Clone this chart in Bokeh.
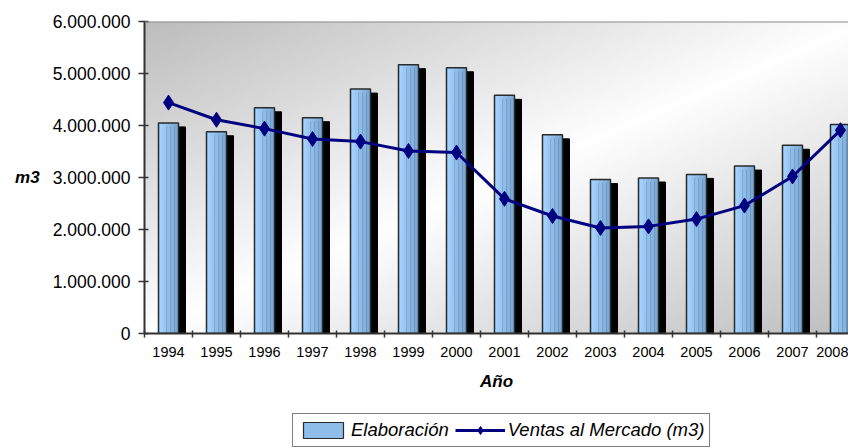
import numpy as np
from bokeh.plotting import figure
from bokeh.layouts import column
from bokeh.models import Range1d, FixedTicker, Span, Legend, LegendItem
from bokeh.embed import file_html
from bokeh.resources import INLINE

# ---------------- data ----------------
years = ["1994", "1995", "1996", "1997", "1998", "1999", "2000", "2001",
         "2002", "2003", "2004", "2005", "2006", "2007", "2008"]
elaboracion = [4050000, 3880000, 4340000, 4150000, 4700000, 5170000, 5110000,
               4580000, 3820000, 2960000, 2990000, 3060000, 3220000, 3620000, 4020000]
ventas = [4440000, 4110000, 3940000, 3740000, 3690000, 3510000, 3480000,
          2590000, 2260000, 2030000, 2060000, 2200000, 2460000, 3020000, 3910000]
y_ticks = [0, 1000000, 2000000, 3000000, 4000000, 5000000, 6000000]
y_tick_labels = [f"{t:,}".replace(",", ".") for t in y_ticks]
series_names = ["Elaboración", "Ventas al Mercado (m3)"]

FONT = "Liberation Sans"
BAR_COLS = ["#A2D0FB", "#99C7F3", "#8FBDEA", "#85B3E0", "#7CA9D6"]
LINE_COL = "#000080"
n = len(years)
xc = [i + 0.5 for i in range(n)]          # category centres

# ---------------- main figure ----------------
p = figure(width=848, height=400, output_backend="svg", toolbar_location=None,
           x_range=Range1d(0, 14.667), y_range=Range1d(0, y_ticks[-1]),
           min_border_left=144, min_border_right=0, min_border_top=21,
           min_border_bottom=67, background_fill_color="white",
           border_fill_color="white", outline_line_color=None)
p.xgrid.visible = False
p.ygrid.visible = False

# background gradient of the plot area (style only)
gw, gh = 240, 120
u = np.linspace(0, 1, gw)[None, :]
v = np.linspace(1, 0, gh)[:, None]          # row 0 = bottom
d = np.abs(u + v - 1.0)
g = (255 - 66 * d).astype(np.uint32)
img = (255 << 24) | (g << 16) | (g << 8) | g
p.image_rgba(image=[img.astype(np.uint32)], x=0, y=0, dw=n, dh=y_ticks[-1])

# top border of the plot area
p.add_layout(Span(location=y_ticks[-1], dimension="width",
                  line_color="#8c8c8c", line_width=2))

# bars: shadow, gradient strips, outline
bw = 20 / 48.0
shadow_dx = 7 / 48.0
shadow_dy = 4 / 52.0 * 1e6
p.vbar(x=[x + shadow_dx for x in xc], top=[e - shadow_dy for e in elaboracion],
       bottom=0, width=bw, fill_color="black", line_color="black")
ns = len(BAR_COLS)
sw = bw / ns
for k, c in enumerate(BAR_COLS):
    p.vbar(x=[x - bw / 2 + (k + 0.5) * sw for x in xc], top=elaboracion,
           bottom=0, width=sw * 1.08, fill_color=c, line_color=None)
p.vbar(x=xc, top=elaboracion, bottom=0, width=bw,
       fill_color=None, line_color="#2a2a2a", line_width=1.5)

# line
p.line(xc, ventas, line_color=LINE_COL, line_width=3)
p.scatter(xc, ventas, marker="diamond", size=15, fill_color=LINE_COL,
          line_color=LINE_COL)

# axes
xa = p.xaxis[0]
xa.ticker = FixedTicker(ticks=xc, minor_ticks=list(range(n + 1)))
xa.major_label_overrides = {x: y for x, y in zip(xc, years)}
xa.major_tick_line_color = None
xa.major_tick_out = 4
xa.minor_tick_line_color = "#333333"
xa.minor_tick_line_width = 1.5
xa.minor_tick_in = 3
xa.minor_tick_out = 4
xa.axis_line_color = "#333333"
xa.axis_line_width = 2
xa.major_label_text_font = FONT
xa.major_label_text_font_size = "14.5px"
xa.major_label_text_color = "black"
xa.major_label_standoff = 9
xa.axis_label = "Año"
xa.axis_label_text_font = FONT
xa.axis_label_text_font_size = "17px"
xa.axis_label_text_font_style = "bold italic"
xa.axis_label_text_color = "black"
xa.axis_label_standoff = 12

ya = p.yaxis[0]
ya.ticker = FixedTicker(ticks=y_ticks)
ya.major_label_overrides = {t: l for t, l in zip(y_ticks, y_tick_labels)}
ya.major_tick_in = 4
ya.major_tick_out = 6
ya.major_tick_line_color = "#333333"
ya.major_tick_line_width = 1.5
ya.minor_tick_line_color = None
ya.axis_line_color = "#333333"
ya.axis_line_width = 2
ya.major_label_text_font = FONT
ya.major_label_text_font_size = "17.5px"
ya.major_label_text_color = "black"
ya.major_label_standoff = 8
ya.axis_label = "m3"
ya.axis_label_orientation = "horizontal"
ya.axis_label_text_font = FONT
ya.axis_label_text_font_size = "17px"
ya.axis_label_text_font_style = "bold italic"
ya.axis_label_text_color = "black"
ya.axis_label_standoff = 10

# ---------------- legend strip (own small figure) ----------------
pl = figure(width=848, height=48, output_backend="svg", toolbar_location=None,
            x_range=Range1d(0, 1), y_range=Range1d(0, 1),
            x_axis_type=None, y_axis_type=None, min_border=0,
            outline_line_color=None, background_fill_color="white",
            border_fill_color="white")
pl.xgrid.visible = False
pl.ygrid.visible = False
# hidden copies of the series, used only for the legend swatches
lg_bar = pl.vbar(x=xc, top=elaboracion, bottom=0, width=bw,
                 fill_color=BAR_COLS[2], line_color="#2a2a2a", line_width=1.2,
                 visible=False)
lg_line = pl.line(x=xc, y=ventas, line_color=LINE_COL, line_width=3,
                  visible=False)
lg_pts = pl.scatter(x=xc, y=ventas, marker="diamond", size=12,
                    fill_color=LINE_COL, line_color=LINE_COL, visible=False)
legend = Legend(items=[
    LegendItem(label=series_names[0], renderers=[lg_bar]),
    LegendItem(label=series_names[1], renderers=[lg_line, lg_pts]),
], location=(148, 1), orientation="horizontal",
    label_text_font=FONT, label_text_font_style="italic",
    label_text_font_size="18.5px", label_text_color="black",
    glyph_width=50, glyph_height=20, label_height=18, label_standoff=3,
    spacing=6, padding=5, margin=0, border_line_color="black",
    border_line_width=1, background_fill_color="white",
    background_fill_alpha=1.0, click_policy="none",
    inactive_fill_alpha=0.0)
pl.add_layout(legend, "center")

layout = column(p, pl, spacing=0)
open("out.html", "w").write(file_html(layout, INLINE))
